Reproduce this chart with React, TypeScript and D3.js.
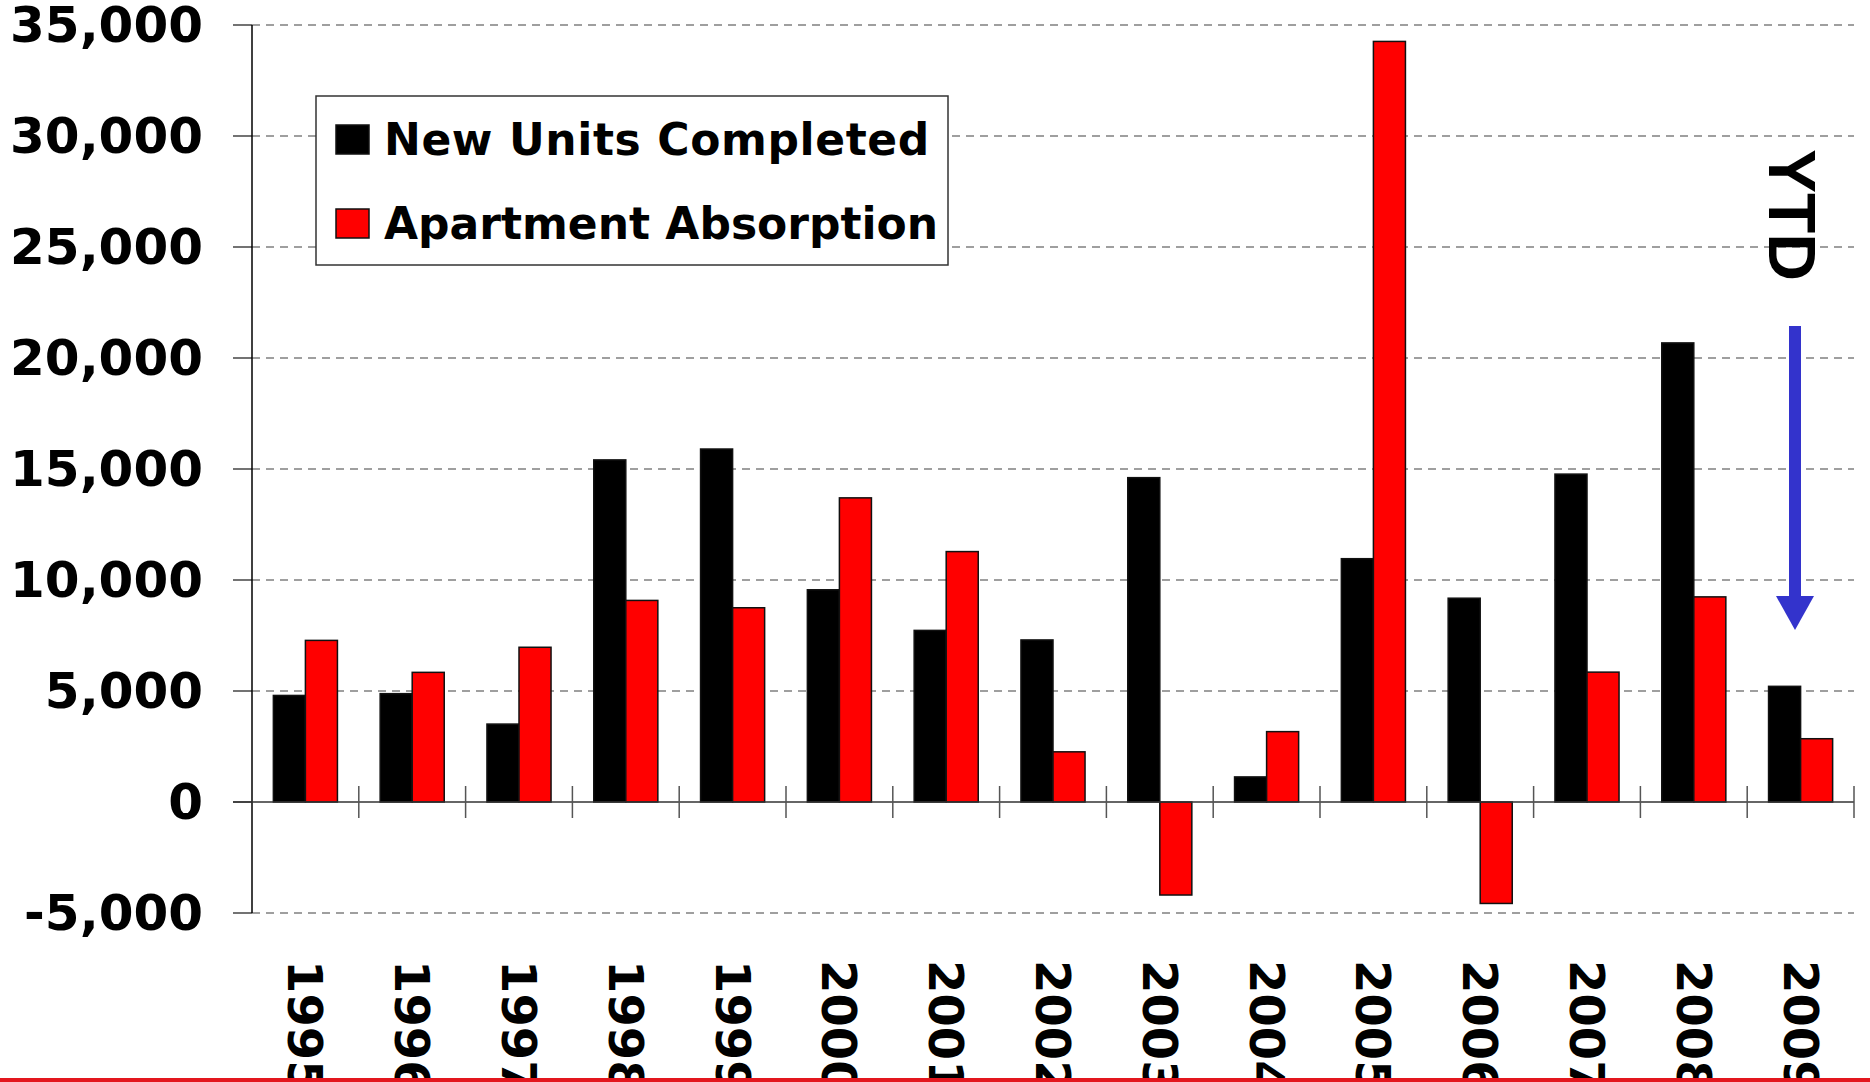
import React, { useEffect, useRef } from "react";
import { select, scaleLinear, scaleBand } from "d3";

const years = [
  "1995", "1996", "1997", "1998", "1999", "2000", "2001", "2002",
  "2003", "2004", "2005", "2006", "2007", "2008", "2009",
];
const newUnits = [
  4800, 4880, 3510, 15410, 15900, 9560, 7730, 7300, 14610, 1130, 10960,
  9180, 14770, 20680, 5210,
];
const absorption = [
  7280, 5840, 6970, 9080, 8750, 13700, 11280, 2260, -4190, 3170, 34260,
  -4570, 5850, 9240, 2850,
];
const seriesNames = ["New Units Completed", "Apartment Absorption"];
const seriesColors = ["#000000", "#ff0000"];
const yTicks = [-5000, 0, 5000, 10000, 15000, 20000, 25000, 30000, 35000];

const width = 1870;
const height = 1082;
const plot = { left: 252, right: 1854, top: 25, bottom: 913 };
const numFont = "'DejaVu Sans', Verdana, sans-serif";

function App() {
  const svgRef = useRef(null);

  function drawChart(svg) {
    const x = scaleBand()
      .domain(years)
      .range([plot.left, plot.right])
      .padding(0);
    const bw = x.bandwidth();
    const xs = scaleBand()
      .domain(seriesNames)
      .range([bw * 0.2, bw * 0.8])
      .padding(0);
    const y = scaleLinear()
      .domain([-5000, 35000])
      .range([plot.bottom, plot.top]);

    // gridlines + y ticks
    const grid = svg.append("g");
    yTicks
      .filter((t) => t !== 0)
      .forEach((t) => {
        grid
          .append("line")
          .attr("x1", plot.left)
          .attr("x2", plot.right)
          .attr("y1", y(t))
          .attr("y2", y(t))
          .attr("stroke", "#808080")
          .attr("stroke-width", 1.4)
          .attr("stroke-dasharray", "8,6");
      });
    yTicks.forEach((t) => {
      grid
        .append("line")
        .attr("x1", plot.left - 19)
        .attr("x2", plot.left)
        .attr("y1", y(t))
        .attr("y2", y(t))
        .attr("stroke", "#444")
        .attr("stroke-width", 1.5);
      grid
        .append("text")
        .attr("x", 203)
        .attr("y", y(t))
        .attr("text-anchor", "end")
        .attr("dominant-baseline", "central")
        .attr("font-family", numFont)
        .attr("font-weight", "bold")
        .attr("font-size", 50)
        .text(t.toLocaleString("en-US"));
    });

    // bars
    const bars = svg.append("g");
    [newUnits, absorption].forEach((vals, si) => {
      bars
        .selectAll(null)
        .data(vals)
        .enter()
        .append("rect")
        .attr("x", (d, i) => x(years[i]) + xs(seriesNames[si]))
        .attr("width", xs.bandwidth())
        .attr("y", (d) => y(Math.max(0, d)))
        .attr("height", (d) => Math.abs(y(d) - y(0)))
        .attr("fill", seriesColors[si])
        .attr("stroke", "#111")
        .attr("stroke-width", 1.5);
    });

    // axes
    svg
      .append("line")
      .attr("x1", plot.left)
      .attr("x2", plot.left)
      .attr("y1", plot.top)
      .attr("y2", plot.bottom)
      .attr("stroke", "#000")
      .attr("stroke-width", 1.5);
    svg
      .append("line")
      .attr("x1", plot.left - 19)
      .attr("x2", plot.right)
      .attr("y1", y(0))
      .attr("y2", y(0))
      .attr("stroke", "#333")
      .attr("stroke-width", 1.5);
    years.forEach((yr) => {
      const bx = x(yr) + bw;
      svg
        .append("line")
        .attr("x1", bx)
        .attr("x2", bx)
        .attr("y1", y(0) - 16)
        .attr("y2", y(0) + 16)
        .attr("stroke", "#555")
        .attr("stroke-width", 1.5);
      svg
        .append("text")
        .attr("transform", `translate(${x(yr) + bw / 2 - 17}, 960) rotate(90)`)
        .attr("font-family", numFont)
        .attr("font-weight", "bold")
        .attr("font-size", 48)
        .text(yr);
    });

    // legend
    const lg = svg.append("g");
    lg.append("rect")
      .attr("x", 316)
      .attr("y", 96)
      .attr("width", 632)
      .attr("height", 169)
      .attr("fill", "#fff")
      .attr("stroke", "#333")
      .attr("stroke-width", 1.5);
    seriesNames.forEach((name, i) => {
      lg.append("rect")
        .attr("x", 336)
        .attr("y", 125 + i * 84)
        .attr("width", 33)
        .attr("height", 29)
        .attr("fill", seriesColors[i])
        .attr("stroke", "#111")
        .attr("stroke-width", 1.5);
      lg.append("text")
        .attr("x", 384)
        .attr("y", 155 + i * 84)
        .attr("font-family", numFont)
        .attr("font-weight", "bold")
        .attr("font-size", 44)
        .attr("letter-spacing", i === 0 ? 0.6 : 0)
        .text(name);
    });

    // YTD note
    svg
      .append("text")
      .attr("transform", "translate(1769, 149) rotate(90)")
      .attr("font-family", "'Liberation Sans', Arial, sans-serif")
      .attr("font-weight", "bold")
      .attr("font-size", 66)
      .text("YTD");
    svg
      .append("line")
      .attr("x1", 1795)
      .attr("x2", 1795)
      .attr("y1", 326)
      .attr("y2", 600)
      .attr("stroke", "#3333cc")
      .attr("stroke-width", 12);
    svg
      .append("polygon")
      .attr("points", "1776,596 1814,596 1795,630")
      .attr("fill", "#3333cc");

    // red rule at the bottom
    svg
      .append("rect")
      .attr("x", 0)
      .attr("y", 1078)
      .attr("width", width)
      .attr("height", 4)
      .attr("fill", "#e3161e");
  }

  useEffect(() => {
    const svg = select(svgRef.current);
    svg.selectAll("*").remove();
    drawChart(svg);
    return () => {
      svg.selectAll("*").remove();
    };
  }, []);

  return (
    <svg
      ref={svgRef}
      width={width}
      height={height}
      style={{ position: "absolute", left: 0, top: 0, background: "#fff" }}
    />
  );
}

export default App;
